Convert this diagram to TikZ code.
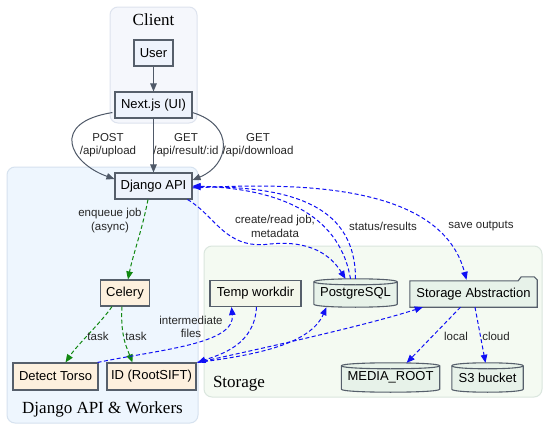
\documentclass[tikz,border=0pt]{standalone}
\usepackage{fontspec}
\setmainfont{Liberation Sans}
\newfontfamily\titlefont{Liberation Serif}
\usetikzlibrary{calc,arrows.meta}
\pgfdeclarelayer{background}
\pgfdeclarelayer{mid}
\pgfsetlayers{background,mid,main}
\definecolor{nodeborder}{HTML}{565F6B}
\definecolor{edgegray}{HTML}{4F5968}
\definecolor{bfill}{HTML}{EEF3FC}
\definecolor{ofill}{HTML}{FDF0DE}
\definecolor{tfill}{HTML}{F3F6EA}
\definecolor{gfill}{HTML}{E7F2E9}
\definecolor{cclient}{HTML}{F5F7FC}
\definecolor{bclient}{HTML}{DDE3EE}
\definecolor{cdjango}{HTML}{EEF6FE}
\definecolor{bdjango}{HTML}{D6E2EF}
\definecolor{cstore}{HTML}{F4FAF2}
\definecolor{bstore}{HTML}{DAE6DE}
\definecolor{egreen}{HTML}{118811}
\definecolor{eblue}{HTML}{1010F5}
\newcommand\nodefont{\fontsize{13}{15}\selectfont}
\newcommand\lblfont{\fontsize{11.5}{13.5}\selectfont}
\newcommand\ttlfont{\titlefont\fontsize{17}{19}\selectfont}
\tikzset{
  box/.style={draw=nodeborder, line width=1.1pt, inner sep=0pt, font=\nodefont},
  bluebox/.style={box, fill=bfill},
  orbox/.style={box, fill=ofill},
  tempbox/.style={box, fill=tfill},
  txtonly/.style={inner sep=0pt, font=\nodefont},
  shapeline/.style={draw=nodeborder, line width=1.1pt, fill=gfill},
  cluster/.style={rounded corners=8pt, line width=1pt},
  ttl/.style={font=\ttlfont, inner sep=0pt},
  lbl/.style={font=\lblfont, align=center, inner sep=0pt, text=black!85},
  tip/.style={-{Triangle[length=8pt,width=6.5pt]}},
  grayedge/.style={tip, draw=edgegray, line width=1pt},
  greenedge/.style={tip, draw=egreen, line width=1pt, dash pattern=on 4pt off 2.5pt},
  blueedge/.style={tip, draw=eblue, line width=1pt, dash pattern=on 4pt off 2.5pt},
}
\newcommand\cylshape[1]{%
  \begin{pgfonlayer}{mid}
  \path[shapeline] ($(#1.north west)+(0,3)$) -- ($(#1.south west)+(0,-3)$)
     .. controls +(0,4) and +(0,4) .. ($(#1.south east)+(0,-3)$)
     -- ($(#1.north east)+(0,3)$)
     .. controls +(0,-4) and +(0,-4) .. ($(#1.north west)+(0,3)$) -- cycle;
  \draw[draw=nodeborder, line width=1.1pt] ($(#1.north west)+(0,3)$)
     .. controls +(0,4) and +(0,4) .. ($(#1.north east)+(0,3)$);
  \end{pgfonlayer}}
\begin{document}
\begin{tikzpicture}[x=1pt,y=-1pt]
\useasboundingbox (0,0) rectangle (550,431);
% clusters
\begin{pgfonlayer}{background}
\fill[white] (0,0) rectangle (550,431);
\draw[cluster, draw=bclient, fill=cclient] (110,7) rectangle (197,123);
\draw[cluster, draw=bdjango, fill=cdjango] (7,167) rectangle (198,423);
\draw[cluster, draw=bstore, fill=cstore] (204,246) rectangle (542,397);
\end{pgfonlayer}
\node[ttl] (tclient) at (153.5,20) {Client};
\node[ttl] (tdjango) at (102.5,409) {Django API \& Workers};
\node[ttl] (tstore) at (239,384) {Storage};
% nodes
\node[bluebox, minimum width=39pt, minimum height=26pt] (user) at (153.5,53) {User};
\node[bluebox, minimum width=77pt, minimum height=26pt] (next) at (153.5,105) {Next.js (UI)};
\node[bluebox, minimum width=77pt, minimum height=26pt] (django) at (153.5,186) {Django API};
\node[orbox, minimum width=49pt, minimum height=26pt] (celery) at (125,293) {Celery};
\node[orbox, minimum width=85pt, minimum height=27pt] (detect) at (55.5,376.5) {Detect Torso};
\node[orbox, minimum width=89pt, minimum height=27pt] (id) at (151.5,376.5) {ID (RootSIFT)};
\node[tempbox, minimum width=91pt, minimum height=26pt] (temp) at (255.5,293.5) {Temp workdir};
\node[txtonly, minimum width=83pt, minimum height=28pt] (pg) at (355.5,293) {PostgreSQL};
\node[txtonly, minimum width=127pt, minimum height=26pt] (storage) at (473.5,294) {Storage Abstraction};
\node[txtonly, minimum width=98pt, minimum height=29pt] (media) at (390.5,377.5) {MEDIA\_ROOT};
\node[txtonly, minimum width=71pt, minimum height=29pt] (s3) at (487.5,377.5) {S3 bucket};
\cylshape{pg}
\cylshape{media}
\cylshape{s3}
\begin{pgfonlayer}{mid}
\path[shapeline] (storage.south west) -- (storage.north west)
  -- ($(storage.north east)+(-19,0)$) -- ($(storage.north east)+(-16,-4)$)
  -- ($(storage.north east)+(-3,-4)$) -- ($(storage.north east)+(0,-1)$)
  -- (storage.south east) -- cycle;
\end{pgfonlayer}
% gray edges
\draw[grayedge] (user.south) -- (next.north);
\draw[grayedge] (next.south) -- (django.north);
\draw[grayedge] ($(next.south west)+(-2,-6)$) .. controls +(-63,10) and +(-45,-16) .. ($(django.west)+(0,-7)$);
\draw[grayedge] ($(next.south east)+(0,-6)$) .. controls +(43,13) and +(37,-15) .. ($(django.east)+(0,-6)$);
% green edges
\draw[greenedge] ($(django.south)+(-5.5,0)$) .. controls +(-6,31) and +(5,-25) .. ($(celery.north)+(3,0)$);
\draw[greenedge] ($(celery.south)+(-13,0)$) .. controls +(-10,15) and +(12,-18) .. ($(detect.north east)+(-33,0)$);
\draw[greenedge] ($(celery.south)+(-3,0)$) .. controls +(-2,29) and +(-5,-13) .. ($(id.north west)+(26,0)$);
% blue edges
\draw[blueedge] ($(django.south east)+(-5,0)$) .. controls +(28,16) and +(-45,6) .. (270,244)
   .. controls +(40,-4) and +(-15,-24) .. ($(pg.north)+(-10,0)$);
\draw[blueedge] ($(pg.north)+(-5,0)$) .. controls +(-10,-59) and +(96,3) .. ($(django.east)+(0,0)$);
\draw[blueedge] ($(pg.north)+(0,0)$) .. controls +(0,-70) and +(105,-1) .. ($(django.east)+(0,1)$);
\draw[blueedge] ($(django.east)+(0,2)$) .. controls +(110,-6) and +(-25,-95) .. ($(storage.north)+(-7,-1)$);
\draw[blueedge] ($(detect.north east)+(-1,0)$) .. controls +(63,-13) and +(4,37) .. ($(temp.south)+(-24,0)$);
\draw[blueedge] ($(temp.south)+(1,0)$) .. controls +(-2,38) and +(23,-8) .. ($(id.north east)+(1,0)$);
\draw[blueedge] ($(id.north east)+(1,0)$) .. controls +(63,-8) and +(-16,36) .. ($(pg.south)+(-29,0)$);
\draw[blueedge] ($(id.north east)+(1,0)$) .. controls +(83,-18) and +(-53,17) .. ($(storage.south west)+(13,0)$);
\draw[blueedge] ($(storage.south)+(-13,0)$) -- ($(media.north east)+(-33,0)$);
\draw[blueedge] ($(storage.south)+(1.5,0)$) -- ($(s3.north)+(-2,0)$);
% labels
\node[lbl] (lpost) at (108,145) {POST\\/api/upload};
\node[lbl] (lget1) at (186,145) {GET\\/api/result/:id};
\node[lbl] (lget2) at (258,145) {GET\\/api/download};
\node[lbl] (lenq) at (110,220.5) {enqueue job\\(async)};
\node[lbl] (ltask1) at (98,336) {task};
\node[lbl] (ltask2) at (136,336) {task};
\node[lbl] (lcreate) at (275,226.5) {create/read job,\\metadata};
\node[lbl] (lstatus) at (383,226) {status/results};
\node[lbl] (lsave) at (481,226) {save outputs};
\node[lbl] (linter) at (191,327) {intermediate\\files};
\node[lbl] (llocal) at (456,336) {local};
\node[lbl] (lcloud) at (496,336) {cloud};
\end{tikzpicture}
\end{document}
